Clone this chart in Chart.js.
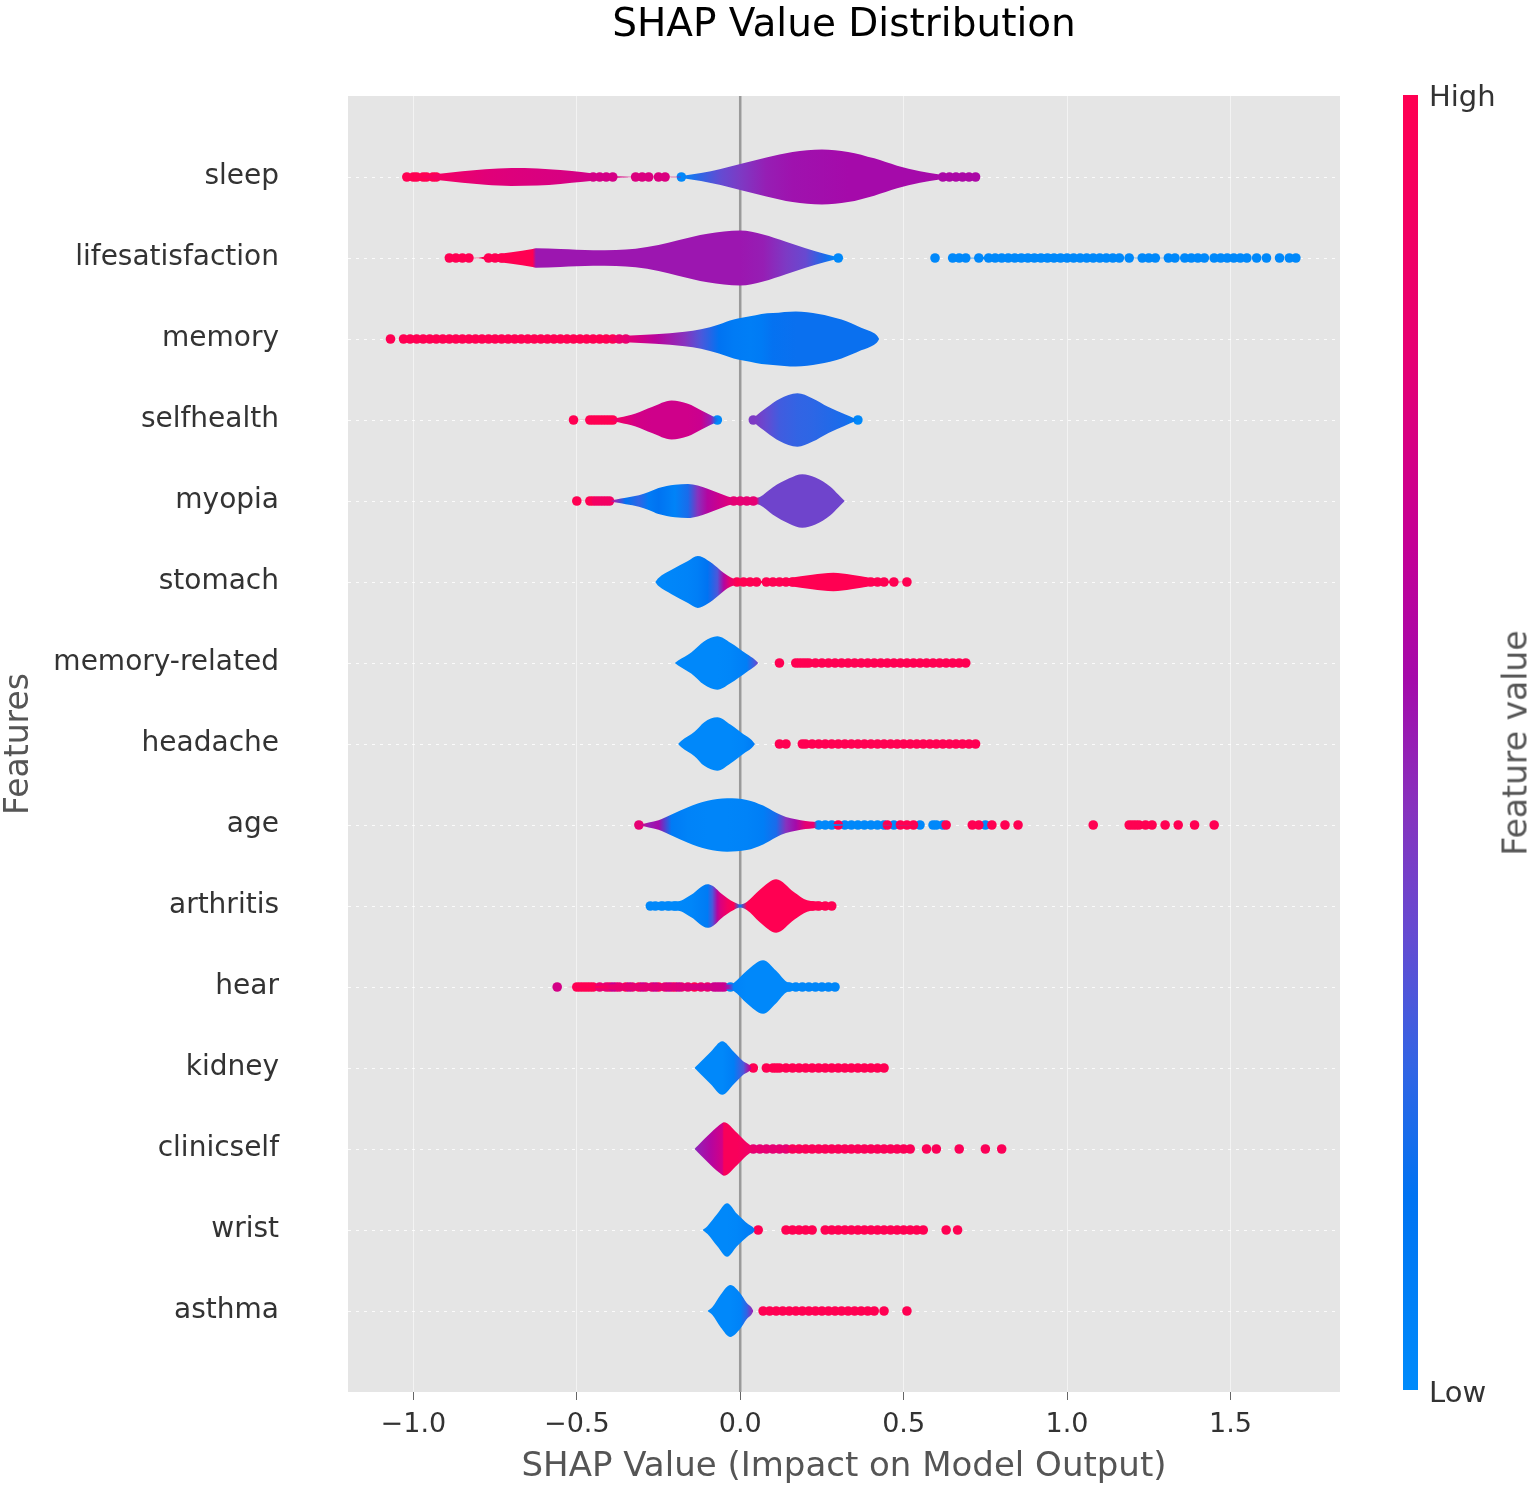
<!DOCTYPE html>
<html>
<head>
<meta charset="utf-8">
<title>SHAP Value Distribution</title>
<script src="https://cdn.jsdelivr.net/npm/chart.js@4.4.1/dist/chart.umd.min.js"></script>
<style>
  body { margin: 0; background: #fff; }
  #wrap { position: relative; width: 1535px; height: 1496px; font-family: "DejaVu Sans", sans-serif; }
  #shapChart { display: block; }
  #chartTitle { position: absolute; left: 348px; width: 992px; top: 0; line-height: 46px; text-align: center;
                font-size: 39px; color: #000; }
  #cbar { position: absolute; left: 1403px; top: 95px; width: 15px; height: 1295px; }
  .cb-label { position: absolute; left: 1429px; font-size: 29px; color: #333; line-height: 1; }
  #cbTitle { position: absolute; left: 1515px; top: 743px; font-size: 33px; color: #555; white-space: nowrap;
             transform: translate(-50%, -50%) rotate(-90deg); }
</style>
</head>
<body>
<div id="wrap">
  <canvas id="shapChart" width="1535" height="1496"></canvas>
  <div id="chartTitle">SHAP Value Distribution</div>
  <div id="cbar"></div>
  <div class="cb-label" style="top:82px">High</div>
  <div class="cb-label" style="top:1378px">Low</div>
  <div id="cbTitle">Feature value</div>
</div>
<script>
const features = ['sleep', 'lifesatisfaction', 'memory', 'selfhealth', 'myopia', 'stomach', 'memory-related',
  'headache', 'age', 'arthritis', 'hear', 'kidney', 'clinicself', 'wrist', 'asthma'];
const xTicks = [-1.0, -0.5, 0.0, 0.5, 1.0, 1.5];
const xTickLabels = ['\u22121.0', '\u22120.5', '0.0', '0.5', '1.0', '1.5'];

// violin outline per feature: SHAP value, half width (rows), feature value colour (0 = low, 1 = high)
// dots: [feature value, [SHAP values]]
const sleepX = [-1.02, -0.97, -0.92, -0.85, -0.78, -0.70, -0.62, -0.55, -0.48, -0.42, -0.38, -0.30, -0.185, -0.18, -0.12, -0.06, 0.00, 0.08, 0.16, 0.25, 0.33, 0.41, 0.48, 0.55, 0.61, 0.66, 0.73];
const sleepW = [0, 0.015, 0.04, 0.07, 0.095, 0.11, 0.105, 0.085, 0.06, 0.03, 0.008, 0.002, 0.002, 0.01, 0.05, 0.10, 0.16, 0.24, 0.31, 0.34, 0.31, 0.23, 0.14, 0.07, 0.03, 0.012, 0];
const sleepC = [1, 0.95, 0.9, 0.82, 0.78, 0.76, 0.75, 0.74, 0.72, 0.72, 0.74, 0.75, 0.75, 0.02, 0.25, 0.35, 0.42, 0.5, 0.53, 0.54, 0.55, 0.55, 0.55, 0.55, 0.56, 0.57, 0.57];
const sleepDots = [
  [1, [-1.02, -1.00, -0.99, -0.97, -0.96, -0.94, -0.93]],
  [0.72, [-0.45, -0.43, -0.41, -0.39]],
  [0.75, [-0.32, -0.30, -0.28, -0.25, -0.23]],
  [0.02, [-0.18]],
  [0.57, [0.62, 0.64, 0.66, 0.68, 0.70, 0.72]]
];

const lifeX = [-0.89, -0.80, -0.77, -0.70, -0.635, -0.625, -0.55, -0.45, -0.38, -0.32, -0.25, -0.19, -0.10, 0.00, 0.07, 0.14, 0.20, 0.26, 0.29, 0.32, 0.55, 0.70, 0.76, 0.85, 0.95, 1.05, 1.10, 1.20, 1.70];
const lifeW = [0, 0.004, 0.03, 0.07, 0.11, 0.12, 0.11, 0.095, 0.10, 0.115, 0.16, 0.22, 0.30, 0.34, 0.29, 0.20, 0.12, 0.05, 0.02, 0, 0, 0.003, 0.02, 0.045, 0.05, 0.03, 0.01, 0.003, 0];
const lifeC = [1, 1, 1, 1, 1, 0.52, 0.52, 0.52, 0.52, 0.52, 0.52, 0.52, 0.52, 0.52, 0.5, 0.42, 0.36, 0.2, 0.02, 0.02, 0.02, 0.02, 0.02, 0.02, 0.02, 0.02, 0.02, 0.02, 0.02];
const lifeDots = [
  [1, [-0.89, -0.87, -0.85, -0.83, -0.77, -0.75, -0.73, -0.71, -0.69, -0.67, -0.65]],
  [0.02, [0.30, 0.596, 0.65, 0.67, 0.69, 0.73, 0.76, 0.78, 0.80, 0.82, 0.84, 0.86, 0.88, 0.90, 0.92, 0.94, 0.96, 0.98, 1.00, 1.02, 1.04, 1.06, 1.08, 1.10, 1.12, 1.14, 1.16, 1.19, 1.23, 1.25, 1.27, 1.31, 1.33, 1.36, 1.38, 1.40, 1.42, 1.45, 1.47, 1.49, 1.51, 1.53, 1.55, 1.58, 1.61, 1.65, 1.68, 1.70]]
];

const memX = [-1.07, -0.80, -0.50, -0.42, -0.35, -0.26, -0.17, -0.12, -0.065, -0.02, 0.03, 0.065, 0.10, 0.17, 0.24, 0.31, 0.37, 0.41, 0.42, 0.425];
const memW = [0, 0.004, 0.008, 0.015, 0.04, 0.06, 0.09, 0.12, 0.18, 0.24, 0.28, 0.31, 0.32, 0.34, 0.31, 0.24, 0.14, 0.07, 0.035, 0];
const memC = [1, 1, 1, 1, 0.8, 0.62, 0.45, 0.3, 0.15, 0.1, 0.08, 0.1, 0.16, 0.17, 0.17, 0.17, 0.17, 0.17, 0.17, 0.17];
const memDots = [
  [1, [-1.07, -1.03, -1.01, -0.99, -0.97, -0.95, -0.93, -0.91, -0.89, -0.87, -0.85, -0.83, -0.81, -0.79, -0.77, -0.75, -0.73, -0.71, -0.69, -0.67, -0.65, -0.63, -0.61, -0.59, -0.57, -0.55, -0.53, -0.51, -0.49, -0.47, -0.45, -0.43, -0.41, -0.39]],
  [0.85, [-0.37, -0.35]]
];

const selfX = [-0.51, -0.40, -0.37, -0.32, -0.27, -0.21, -0.16, -0.12, -0.09, -0.075, -0.065, -0.06, 0.035, 0.045, 0.08, 0.12, 0.175, 0.22, 0.27, 0.32, 0.35, 0.36];
const selfW = [0, 0.005, 0.03, 0.08, 0.16, 0.24, 0.2, 0.12, 0.06, 0.03, 0.01, 0, 0, 0.04, 0.15, 0.26, 0.33, 0.27, 0.16, 0.07, 0.02, 0];
const selfC = [1, 0.95, 0.85, 0.72, 0.7, 0.7, 0.7, 0.68, 0.5, 0.2, 0.02, 0.02, 0.42, 0.42, 0.35, 0.28, 0.25, 0.24, 0.22, 0.2, 0.1, 0.02];
const selfDots = [
  [1, [-0.51, -0.46, -0.45, -0.44, -0.43, -0.42, -0.41, -0.40, -0.39]],
  [0.02, [-0.07, 0.36]],
  [0.42, [0.04]]
];

const myoX = [-0.50, -0.40, -0.38, -0.35, -0.31, -0.28, -0.25, -0.20, -0.16, -0.13, -0.10, -0.06, -0.04, -0.02, 0.05, 0.06, 0.10, 0.15, 0.19, 0.23, 0.275, 0.30, 0.315, 0.32];
const myoW = [0, 0.005, 0.02, 0.04, 0.07, 0.11, 0.16, 0.2, 0.21, 0.19, 0.15, 0.09, 0.06, 0.04, 0.04, 0.05, 0.17, 0.28, 0.33, 0.29, 0.18, 0.08, 0.02, 0];
const myoC = [1, 0.9, 0.45, 0.15, 0.25, 0.1, 0.15, 0.05, 0.2, 0.45, 0.6, 0.7, 0.75, 0.8, 0.8, 0.38, 0.38, 0.38, 0.38, 0.38, 0.38, 0.38, 0.38, 0.38];
const myoDots = [
  [1, [-0.50, -0.46, -0.45]],
  [0.9, [-0.44, -0.43, -0.42, -0.41, -0.40]],
  [0.8, [-0.02, 0.00, 0.02, 0.04]]
];

const stomX = [-0.26, -0.25, -0.21, -0.16, -0.13, -0.10, -0.07, -0.05, -0.03, -0.01, 0.05, 0.08, 0.15, 0.22, 0.285, 0.34, 0.40, 0.44, 0.47, 0.51];
const stomW = [0, 0.05, 0.15, 0.26, 0.32, 0.27, 0.18, 0.11, 0.06, 0.03, 0.01, 0.02, 0.05, 0.09, 0.115, 0.09, 0.05, 0.02, 0.005, 0];
const stomC = [0.02, 0.02, 0.03, 0.05, 0.08, 0.15, 0.3, 0.6, 0.85, 1, 1, 1, 1, 1, 1, 1, 1, 1, 1, 1];
const stomDots = [
  [1, [-0.01, 0.01, 0.03, 0.05, 0.08, 0.10, 0.12, 0.14, 0.16, 0.38, 0.40, 0.42, 0.44, 0.47, 0.51]]
];

const memrelX = [-0.20, -0.19, -0.15, -0.11, -0.07, -0.03, 0.02, 0.045, 0.055];
const memrelW = [0, 0.03, 0.13, 0.27, 0.33, 0.25, 0.11, 0.04, 0];
const memrelC = [0.02, 0.02, 0.02, 0.02, 0.02, 0.03, 0.08, 0.3, 0.4];
const memrelDots = [
  [1, [0.12, 0.17, 0.18, 0.19, 0.20, 0.21, 0.23, 0.25, 0.27, 0.29, 0.31, 0.33, 0.35, 0.37, 0.39, 0.41, 0.43, 0.45, 0.47, 0.49, 0.51, 0.53, 0.55, 0.57, 0.59, 0.61, 0.63, 0.65, 0.67, 0.69]]
];

const headX = [-0.19, -0.18, -0.14, -0.11, -0.07, -0.03, 0.01, 0.035, 0.045];
const headW = [0, 0.04, 0.15, 0.27, 0.33, 0.24, 0.12, 0.05, 0];
const headC = [0.02, 0.02, 0.02, 0.02, 0.02, 0.02, 0.04, 0.08, 0.1];
const headDots = [
  [1, [0.12, 0.14, 0.19, 0.20, 0.22, 0.24, 0.26, 0.28, 0.30, 0.32, 0.34, 0.36, 0.38, 0.40, 0.42, 0.44, 0.46, 0.48, 0.50, 0.52, 0.54, 0.56, 0.58, 0.60, 0.62, 0.64, 0.66, 0.68, 0.70, 0.72]]
];

const ageX = [-0.31, -0.28, -0.25, -0.21, -0.16, -0.10, -0.04, 0.02, 0.07, 0.11, 0.14, 0.17, 0.20, 0.225, 0.235, 0.30, 0.64];
const ageW = [0, 0.03, 0.06, 0.13, 0.22, 0.30, 0.33, 0.31, 0.24, 0.15, 0.1, 0.07, 0.05, 0.04, 0.035, 0.01, 0];
const ageC = [0.8, 0.5, 0.55, 0.1, 0.05, 0.04, 0.04, 0.05, 0.08, 0.2, 0.45, 0.55, 0.8, 0.8, 0.02, 0.02, 0.02];
const ageDots = [
  [0.8, [-0.31]],
  [0.02, [0.24, 0.26, 0.28, 0.32, 0.34, 0.36, 0.38, 0.40, 0.42, 0.44, 0.47, 0.55, 0.59, 0.60, 0.62, 0.75]],
  [1, [0.30, 0.45, 0.49, 0.51, 0.53, 0.63, 0.71, 0.73, 0.77, 0.81, 0.85, 1.08, 1.19, 1.20, 1.21, 1.22, 1.24, 1.26, 1.30, 1.34, 1.39, 1.45]]
];

const arthX = [-0.275, -0.26, -0.19, -0.15, -0.10, -0.085, -0.07, -0.06, -0.04, -0.02, 0.00, 0.02, 0.06, 0.11, 0.165, 0.205, 0.25, 0.28, 0.285];
const arthW = [0, 0.05, 0.06, 0.14, 0.27, 0.25, 0.2, 0.16, 0.1, 0.05, 0.02, 0.05, 0.2, 0.33, 0.17, 0.07, 0.05, 0.02, 0];
const arthC = [0.02, 0.02, 0.02, 0.03, 0.1, 0.3, 0.6, 0.75, 0.9, 1, 0.1, 1, 1, 1, 1, 1, 1, 1, 1];
const arthDots = [
  [0.02, [-0.275, -0.26, -0.24, -0.22, -0.20]],
  [1, [0.22, 0.24, 0.26, 0.28]]
];

const hearX = [-0.56, -0.44, -0.40, -0.30, -0.20, -0.10, -0.05, -0.035, -0.02, 0.02, 0.07, 0.11, 0.145, 0.20, 0.26, 0.29];
const hearW = [0, 0.01, 0.03, 0.04, 0.04, 0.035, 0.03, 0.03, 0.05, 0.2, 0.33, 0.2, 0.06, 0.035, 0.025, 0];
const hearC = [0.75, 1, 0.85, 0.8, 0.78, 0.72, 0.68, 0.5, 0.05, 0.02, 0.02, 0.02, 0.02, 0.03, 0.03, 0.03];
const hearDots = [
  [0.72, [-0.56]],
  [1, [-0.50, -0.49, -0.48, -0.47, -0.46, -0.45, -0.40, -0.35, -0.31, -0.25, -0.20, -0.14]],
  [0.82, [-0.43, -0.41, -0.38, -0.37, -0.33, -0.29, -0.27, -0.23, -0.21, -0.18, -0.16, -0.12, -0.10]],
  [0.68, [-0.39, -0.34, -0.30, -0.26, -0.22, -0.19, -0.08, -0.07, -0.06, -0.05]],
  [0.03, [-0.03, 0.15, 0.17, 0.19, 0.21, 0.23, 0.25, 0.27, 0.29]]
];

const kidX = [-0.14, -0.13, -0.09, -0.055, -0.02, 0.01, 0.03, 0.035];
const kidW = [0, 0.04, 0.2, 0.33, 0.2, 0.08, 0.03, 0];
const kidC = [0.02, 0.02, 0.02, 0.02, 0.08, 0.3, 0.65, 0.7];
const kidDots = [
  [1, [0.04, 0.08, 0.10, 0.11, 0.12, 0.14, 0.16, 0.18, 0.20, 0.22, 0.24, 0.26, 0.28, 0.30, 0.32, 0.34, 0.36, 0.38, 0.40, 0.42, 0.44]]
];

const clinX = [-0.14, -0.13, -0.09, -0.055, -0.05, -0.01, 0.02, 0.04, 0.10, 0.20, 0.30, 0.45, 0.46];
const clinW = [0, 0.04, 0.2, 0.32, 0.33, 0.2, 0.08, 0.03, 0.02, 0.02, 0.015, 0.01, 0];
const clinC = [0.45, 0.5, 0.6, 0.72, 0.95, 0.95, 0.9, 0.85, 0.8, 0.95, 0.95, 0.95, 0.95];
const clinDots = [
  [0.8, [0.04, 0.06, 0.08, 0.10, 0.12, 0.14]],
  [0.97, [0.16, 0.18, 0.20, 0.22, 0.24, 0.26, 0.28, 0.30, 0.32, 0.34, 0.36, 0.38, 0.40, 0.42, 0.44, 0.46, 0.48, 0.50, 0.52, 0.57, 0.60, 0.67, 0.75, 0.80]]
];

const wristX = [-0.115, -0.10, -0.07, -0.04, -0.01, 0.025, 0.04, 0.045];
const wristW = [0, 0.05, 0.2, 0.33, 0.2, 0.07, 0.03, 0];
const wristC = [0.02, 0.02, 0.02, 0.02, 0.03, 0.08, 0.12, 0.15];
const wristDots = [
  [1, [0.055, 0.14, 0.16, 0.18, 0.20, 0.22, 0.26, 0.28, 0.30, 0.32, 0.34, 0.36, 0.38, 0.40, 0.42, 0.44, 0.46, 0.48, 0.50, 0.52, 0.54, 0.56, 0.63, 0.665]]
];

const asthX = [-0.10, -0.085, -0.06, -0.03, 0.00, 0.02, 0.035, 0.04];
const asthW = [0, 0.05, 0.2, 0.32, 0.22, 0.1, 0.04, 0];
const asthC = [0.02, 0.02, 0.02, 0.02, 0.05, 0.25, 0.45, 0.5];
const asthDots = [
  [1, [0.07, 0.09, 0.11, 0.13, 0.15, 0.17, 0.19, 0.21, 0.23, 0.25, 0.27, 0.29, 0.31, 0.33, 0.35, 0.37, 0.39, 0.41, 0.44, 0.51]]
];

const violins = [
  [sleepX, sleepW, sleepC, sleepDots],
  [lifeX, lifeW, lifeC, lifeDots],
  [memX, memW, memC, memDots],
  [selfX, selfW, selfC, selfDots],
  [myoX, myoW, myoC, myoDots],
  [stomX, stomW, stomC, stomDots],
  [memrelX, memrelW, memrelC, memrelDots],
  [headX, headW, headC, headDots],
  [ageX, ageW, ageC, ageDots],
  [arthX, arthW, arthC, arthDots],
  [hearX, hearW, hearC, hearDots],
  [kidX, kidW, kidC, kidDots],
  [clinX, clinW, clinC, clinDots],
  [wristX, wristW, wristC, wristDots],
  [asthX, asthW, asthC, asthDots]
];

// blue -> purple -> red, like shap's red_blue map
const cmap = [[0, [0, 139, 251]], [0.15, [0, 115, 242]], [0.25, [50, 100, 228]], [0.35, [100, 75, 210]],
  [0.45, [135, 50, 190]], [0.55, [165, 10, 170]], [0.65, [195, 0, 150]], [0.8, [230, 0, 115]], [1, [255, 0, 82]]];

function colorAt(t) {
  for (let i = 1; i < cmap.length; i++) {
    if (t <= cmap[i][0]) {
      const [t0, c0] = cmap[i - 1];
      const [t1, c1] = cmap[i];
      const f = (t - t0) / (t1 - t0);
      const c = c0.map((v, k) => Math.round(v + (c1[k] - v) * f));
      return `rgb(${c.join(',')})`;
    }
  }
  return 'rgb(255,0,82)';
}

document.getElementById('cbar').style.background =
  'linear-gradient(to top, ' + cmap.map(([t, c]) => `rgb(${c.join(',')}) ${t * 100}%`).join(', ') + ')';

// horizontal gradient following the feature value along the violin
function violinFill(xs, cs) {
  return function(ctx) {
    const chart = ctx.chart;
    const sx = chart.scales.x;
    if (!chart.chartArea || !sx) return colorAt(cs[0]);
    const x0 = sx.getPixelForValue(xs[0]);
    const x1 = sx.getPixelForValue(xs[xs.length - 1]);
    const g = chart.ctx.createLinearGradient(x0, 0, x1, 0);
    xs.forEach((v, i) => {
      const off = Math.min(1, Math.max(0, (sx.getPixelForValue(v) - x0) / (x1 - x0)));
      g.addColorStop(off, colorAt(cs[i]));
    });
    return g;
  };
}

const datasets = [];

violins.forEach(([xs, ws, cs], row) => {
  datasets.push({
    data: xs.map((x, i) => ({ x: x, y: row - ws[i] })),
    fill: '+1',
    backgroundColor: violinFill(xs, cs),
    borderColor: 'rgba(0,0,0,0)',
    borderWidth: 0,
    pointRadius: 0,
    cubicInterpolationMode: 'monotone',
    order: 0
  });
  datasets.push({
    data: xs.map((x, i) => ({ x: x, y: row + ws[i] })),
    fill: false,
    borderColor: 'rgba(0,0,0,0)',
    borderWidth: 0,
    pointRadius: 0,
    cubicInterpolationMode: 'monotone',
    order: 0
  });
});

violins.forEach(([, , , dots], row) => {
  const pts = [];
  const cols = [];
  dots.forEach(([c, xs]) => {
    xs.forEach(x => {
      pts.push({ x: x, y: row });
      cols.push(colorAt(c));
    });
  });
  datasets.push({
    data: pts,
    showLine: false,
    pointRadius: 4.8,
    pointHoverRadius: 4.8,
    pointBackgroundColor: cols,
    pointBorderWidth: 0,
    order: 1
  });
});

// zero reference line
datasets.push({
  data: [{ x: 0, y: -1 }, { x: 0, y: 15 }],
  borderColor: '#9a9a9a',
  borderWidth: 2.5,
  pointRadius: 0,
  fill: false,
  order: 2
});

const plotBg = {
  id: 'plotBg',
  beforeDraw(chart) {
    const { ctx, chartArea: a } = chart;
    ctx.save();
    ctx.fillStyle = '#e5e5e5';
    ctx.fillRect(a.left, a.top, a.width, a.height);
    ctx.restore();
  }
};

Chart.defaults.font.family = '"DejaVu Sans", sans-serif';

new Chart(document.getElementById('shapChart').getContext('2d'), {
  type: 'line',
  data: { datasets: datasets },
  options: {
    responsive: false,
    animation: false,
    events: [],
    layout: { padding: { top: 96, right: 195, bottom: 0, left: 0 } },
    plugins: {
      legend: { display: false },
      tooltip: { enabled: false },
      title: { display: false }
    },
    scales: {
      x: {
        type: 'linear',
        min: -1.2,
        max: 1.835,
        afterBuildTicks: s => { s.ticks = xTicks.map(v => ({ value: v })); },
        afterFit: s => { s.height = 104; },
        ticks: {
          callback: (v, i) => xTickLabels[i],
          color: '#333',
          font: { size: 27 },
          padding: 9,
          maxRotation: 0,
          autoSkip: false
        },
        grid: { color: 'rgba(255,255,255,0.55)', tickColor: '#666', tickLength: 8, lineWidth: 1 },
        border: { display: false },
        title: {
          display: true,
          text: 'SHAP Value (Impact on Model Output)',
          color: '#555',
          font: { size: 34 },
          padding: { top: 0, bottom: 8 }
        }
      },
      y: {
        type: 'linear',
        reverse: true,
        min: -1,
        max: 15,
        afterBuildTicks: s => { s.ticks = features.map((f, i) => ({ value: i })); },
        afterFit: s => { s.width = 348; },
        ticks: {
          callback: (v, i) => features[i],
          color: '#333',
          font: { size: 28 },
          padding: 69,
          autoSkip: false
        },
        grid: { color: 'rgba(255,255,255,0.85)', drawTicks: false, lineWidth: 1 },
        border: { display: false, dash: [3, 5] },
        title: {
          display: true,
          text: 'Features',
          color: '#555',
          font: { size: 33 },
          padding: 0
        }
      }
    }
  },
  plugins: [plotBg]
});
</script>
</body>
</html>
